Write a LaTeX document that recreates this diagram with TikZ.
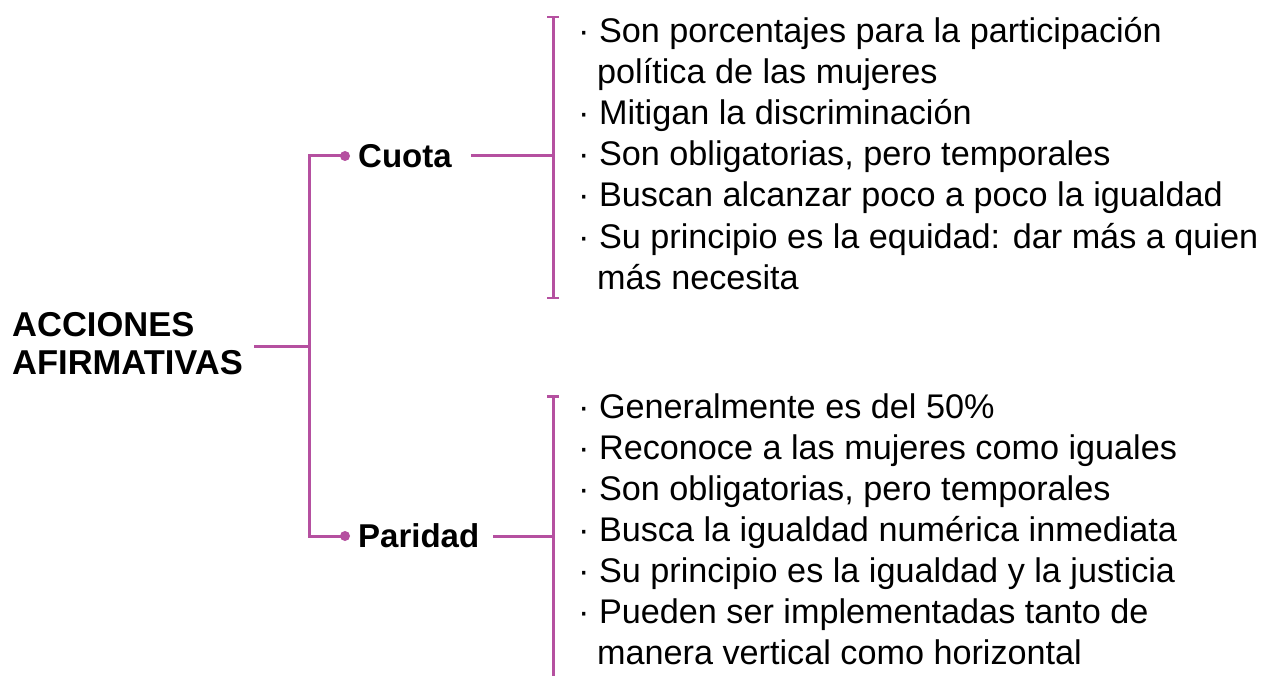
\documentclass[tikz,border=0pt]{standalone}
\usepackage{fontspec}
\setmainfont{Liberation Sans}
\usetikzlibrary{arrows.meta}
\definecolor{accent}{RGB}{181,80,160}
\tikzset{
  branch/.style={draw=accent,line width=3pt},
  item/.style={anchor=base west,inner sep=0pt,font=\fontsize{34.2}{41}\selectfont},
  head/.style={inner sep=0pt,font=\fontsize{33}{38}\selectfont\bfseries},
  tick/.tip={Bar[width=12pt,line width=2.5pt]}
}
\begin{document}
\begin{tikzpicture}[x=1pt,y=-1pt]
      \useasboundingbox (0,0) rectangle (1265,676);

      \node[head,anchor=west,align=left,font=\fontsize{34.5}{38}\selectfont\bfseries]
           (root) at (12,344) {ACCIONES\\AFIRMATIVAS};
      \coordinate (fork) at (309,346);

      \node[head,anchor=base west] (cuota) at (358,168) {Cuota};
      \node[head,anchor=base west] (paridad) at (358,547) {Paridad};
      \coordinate (cdot) at (345,156);
      \coordinate (pdot) at (345,536);

      \draw[branch] ([xshift=11pt]root.east |- fork) -- (fork);
      \draw[branch,line join=miter] (cdot) -| (fork) |- (pdot);
      \fill[accent] (cdot) circle (5);
      \fill[accent] (pdot) circle (5);

      % brackets
      \coordinate (ctop) at (553,16);
      \coordinate (cbot) at (553,299);
      \coordinate (ptop) at (553,395);
      \coordinate (pbot) at (553,676);
      \draw[branch,tick-tick] (ctop) -- (cbot);
      \draw[branch,tick-] (ptop) -- (pbot);
      \draw[branch] ([xshift=19pt]cuota.east |- cdot) -- (cdot -| ctop);
      \draw[branch] ([xshift=14pt]paridad.east |- pdot) -- (pdot -| ptop);

      % cuota
      \node[item] (c1) at (578,43) {· Son porcentajes para la participación};
      \node[item] (c1b) at (597,84) {política de las mujeres};
      \node[item] (c2) at (578,125) {· Mitigan la discriminación};
      \node[item] (c3) at (578,166) {· Son obligatorias, pero temporales};
      \node[item] (c4) at (578,207) {· Buscan alcanzar poco a poco la igualdad};
      \node[item] (c5) at (578,248) {· Su principio es la equidad: dar más a quien};
      \node[item] (c5b) at (597,289) {más necesita};

      % paridad
      \node[item] (p1) at (578,418) {· Generalmente es del 50\%};
      \node[item] (p2) at (578,459) {· Reconoce a las mujeres como iguales};
      \node[item] (p3) at (578,500) {· Son obligatorias, pero temporales};
      \node[item] (p4) at (578,541) {· Busca la igualdad numérica inmediata};
      \node[item] (p5) at (578,582) {· Su principio es la igualdad y la justicia};
      \node[item] (p6) at (578,623) {· Pueden ser implementadas tanto de};
      \node[item] (p6b) at (597,664) {manera vertical como horizontal};
\end{tikzpicture}
\end{document}
